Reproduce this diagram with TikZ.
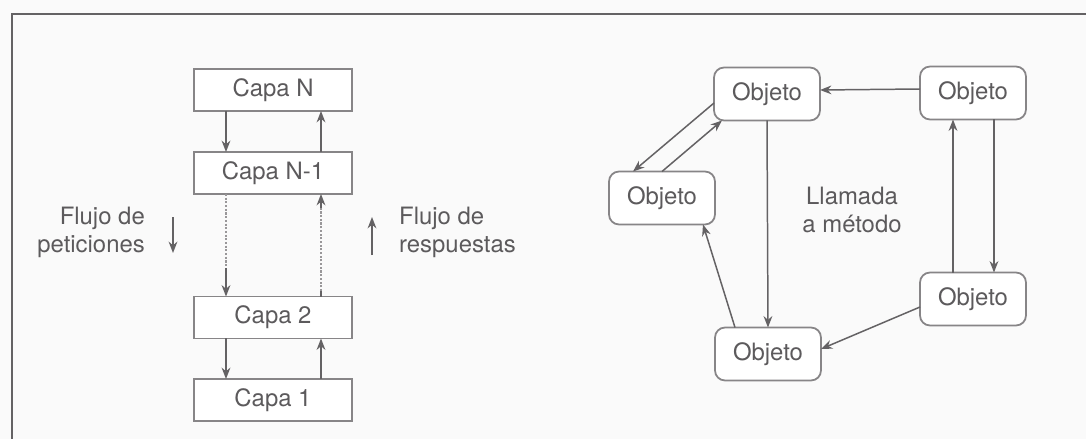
\documentclass[tikz,border=0pt]{standalone}
\usepackage{fontspec}
\setmainfont{TeX Gyre Heros}
\usetikzlibrary{arrows.meta}
\definecolor{gristxt}{RGB}{92,90,92}
\definecolor{grislin}{RGB}{135,133,135}
\definecolor{grisfl}{RGB}{100,98,100}
\definecolor{fondo}{RGB}{250,250,250}
\begin{document}
\begin{tikzpicture}[x=0.02cm,y=-0.02cm,font=\fontsize{13.6}{15.5}\selectfont,text=gristxt,
	capa/.style={draw=grislin,line width=1pt,fill=white,minimum width=3.16cm,minimum height=0.84cm,inner sep=0,outer sep=0},
	objeto/.style={draw=grislin,line width=1pt,fill=white,rounded corners=0.2cm,minimum width=2.12cm,minimum height=1.06cm,inner sep=0,outer sep=0},
	flecha/.style={draw=grisfl,line width=0.85pt,-{Stealth[length=6.5pt,width=5pt]}},
	puntos/.style={draw=grislin!85,line width=0.9pt,dash pattern=on 1.2pt off 0.9pt}]
			\useasboundingbox (0,0) rectangle (1086,439);
			\fill[fondo] (0,0) rectangle (1086,439);
			\draw[grisfl,line width=1.2pt] (12,439)--(12,14)--(1086,14);
			% capas
			\node[capa] (capaN) at (273,90) {Capa N};
			\node[capa] (capaNm) at (273,173) {Capa N-1};
			\node[capa] (capa2) at (273,317.5) {Capa 2};
			\node[capa] (capa1) at (273,400) {Capa 1};
			\coordinate (dn) at (226,0);
			\coordinate (up) at (321,0);
			\coordinate (m1) at (226,268);
			\coordinate (m2) at (321,291);
			\coordinate (m3) at (321,208);
			\draw[flecha] (capaN.south -| dn)--(capaNm.north -| dn);
			\draw[flecha] (capaNm.north -| up)--(capaN.south -| up);
			\draw[puntos] (capaNm.south -| dn)--(m1);
			\draw[flecha] (m1)--(capa2.north -| dn);
			\draw[grisfl,line width=0.85pt] (capa2.north -| up)--(m2);
			\draw[puntos] (m2)--(m3);
			\draw[flecha] (m3)--(capaNm.south -| up);
			\draw[flecha] (capa2.south -| dn)--(capa1.north -| dn);
			\draw[flecha] (capa1.north -| up)--(capa2.south -| up);
			% flujos
			\node[anchor=east,align=right] (pet) at (151,232.5) {Flujo de\\peticiones};
			\node[anchor=west,align=left] (resp) at (393,232.5) {Flujo de\\respuestas};
			\coordinate (pa) at (173,217);
			\coordinate (pb) at (173,253);
			\coordinate (ra) at (372,255);
			\coordinate (rb) at (372,217);
			\draw[flecha] (pa)--(pb);
			\draw[flecha] (ra)--(rb);
			% objetos
			\node[objeto] (objA) at (767,94) {Objeto};
			\node[objeto] (objB) at (973,93) {Objeto};
			\node[objeto] (objC) at (662,198) {Objeto};
			\node[objeto] (objD) at (768,354) {Objeto};
			\node[objeto] (objE) at (973,299) {Objeto};
			\node[align=center] (llam) at (852,210) {Llamada\\a método};
			\draw[flecha] ([yshift=0.08cm]objB.west)--([yshift=0.08cm]objA.east);
			\draw[flecha] ([yshift=-0.18cm]objA.west)--([xshift=-0.58cm]objC.north);
			\draw[flecha] (objC.north)--([xshift=-0.9cm]objA.south);
			\draw[flecha] (objA.south)--(objD.north);
			\draw[flecha] ([xshift=-0.66cm]objD.north)--([xshift=0.82cm]objC.south);
			\draw[flecha] ([yshift=-0.16cm]objE.west)--([yshift=0.1cm]objD.east);
			\draw[flecha] ([xshift=-0.4cm]objE.north)--([xshift=-0.4cm]objB.south);
			\draw[flecha] ([xshift=0.42cm]objB.south)--([xshift=0.42cm]objE.north);
		    \end{tikzpicture}
\end{document}
